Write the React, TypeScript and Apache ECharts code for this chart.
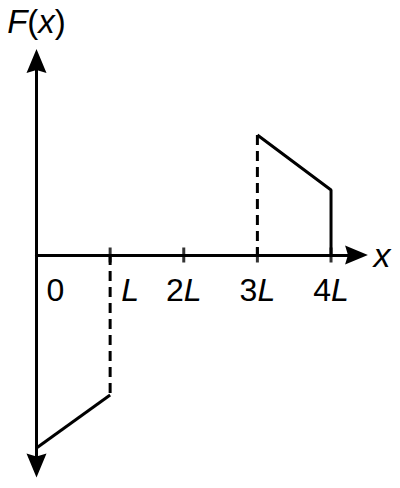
import { useEffect, useRef } from "react";
import * as echarts from "echarts";

// x in units of L, F(x) in arbitrary units
const xTicks = [1, 2, 3, 4];
const tickLabels = ["0", "L", "2L", "3L", "4L"];
const rampLow = [[0, -1.93], [1, -1.4]];
const jumpLow = [[1, 0], [1, -1.4]];
const jumpHigh = [[3, 1.2], [3, 0]];
const rampHigh = [[3, 1.2], [4, 0.65], [4, 0]];

const FONT = "Liberation Sans";
const ARROW = "path://M0,0 L10,24 L0,21 L-10,24 Z";

const Y_MIN = -2.105;
const Y_MAX = 1.94;
const GRID_TOP = 61;
const GRID_BOTTOM = 22.5;
const PLOT_H = 488 - GRID_TOP - GRID_BOTTOM;
// pixels between grid bottom and y = 0, so the x axis sits on zero
const X_OFFSET = -(PLOT_H * (0 - Y_MIN)) / (Y_MAX - Y_MIN);

const solid = { color: "#000", width: 3, type: "solid" as const };
const dashed = { color: "#000", width: 3, type: [10, 6] };

function formatTick(value: number) {
  const label = tickLabels[value];
  if (!Number.isInteger(value) || label === undefined) return "";
  if (value === 0) return "{z|0}";
  if (value === 1) return "{l|L}";
  return `{d|${label.slice(0, -1)}}{i|L}`;
}

export default function App() {
  const chartRef = useRef<HTMLDivElement>(null);

  useEffect(() => {
    if (!chartRef.current) return;
    const chart = echarts.init(chartRef.current, null, { renderer: "svg" });

    const option: any = {
      animation: false,
      grid: {
        left: 36.5,
        right: 43.5,
        top: GRID_TOP,
        bottom: GRID_BOTTOM,
        containLabel: false,
        outerBoundsMode: "none",
      },
      xAxis: {
        type: "value",
        min: 0,
        max: 4.346,
        interval: 1,
        offset: X_OFFSET,
        splitLine: { show: false },
        axisTick: { show: false },
        axisLine: {
          onZero: false,
          lineStyle: { color: "#000", width: 3 },
          symbol: ["none", ARROW],
          symbolSize: [19, 23],
        },
        axisLabel: {
          margin: 19,
          color: "#000",
          fontFamily: FONT,
          fontSize: 32,
          showMaxLabel: false,
          formatter: formatTick,
          rich: {
            z: { fontSize: 32, fontFamily: FONT, color: "#000", lineHeight: 32, padding: [0, 0, 0, 38] },
            l: { fontSize: 32, fontFamily: FONT, color: "#000", lineHeight: 32, fontStyle: "italic", padding: [0, 0, 0, 40] },
            d: { fontSize: 32, fontFamily: FONT, color: "#000", lineHeight: 32 },
            i: { fontSize: 32, fontFamily: FONT, color: "#000", lineHeight: 32, fontStyle: "italic" },
          },
        },
        name: "x",
        nameLocation: "end",
        nameGap: 17,
        nameTextStyle: {
          color: "#000",
          fontFamily: FONT,
          fontSize: 34,
          fontStyle: "italic",
        },
      },
      yAxis: {
        type: "value",
        min: Y_MIN,
        max: Y_MAX,
        splitLine: { show: false },
        axisTick: { show: false },
        axisLabel: { show: false },
        axisLine: {
          lineStyle: { color: "#000", width: 3 },
          symbol: [ARROW, ARROW],
          symbolSize: [20, 24],
        },
        name: "{i|F}{r|(}{i|x}{r|)}",
        nameLocation: "end",
        nameGap: 23,
        nameTextStyle: {
          color: "#000",
          fontFamily: FONT,
          fontSize: 33,
          lineHeight: 33,
          rich: {
            i: { fontSize: 33, fontFamily: FONT, color: "#000", fontStyle: "italic", lineHeight: 33 },
            r: { fontSize: 33, fontFamily: FONT, color: "#000", lineHeight: 33 },
          },
        },
      },
      series: [
        {
          type: "scatter",
          data: xTicks.map((v) => [v, 0]),
          symbol: "rect",
          symbolSize: [3, 15],
          itemStyle: { color: "#000" },
          silent: true,
        },
        { type: "line", data: rampLow, symbol: "none", lineStyle: solid },
        { type: "line", data: jumpLow, symbol: "none", lineStyle: dashed },
        { type: "line", data: jumpHigh, symbol: "none", lineStyle: dashed },
        { type: "line", data: rampHigh, symbol: "none", lineStyle: solid },
      ],
    };

    chart.setOption(option);

    return () => {
      chart.dispose();
    };
  }, []);

  return (
    <div
      ref={chartRef}
      style={{ position: "absolute", left: 0, top: 0, width: 400, height: 488, background: "#fff" }}
    />
  );
}
